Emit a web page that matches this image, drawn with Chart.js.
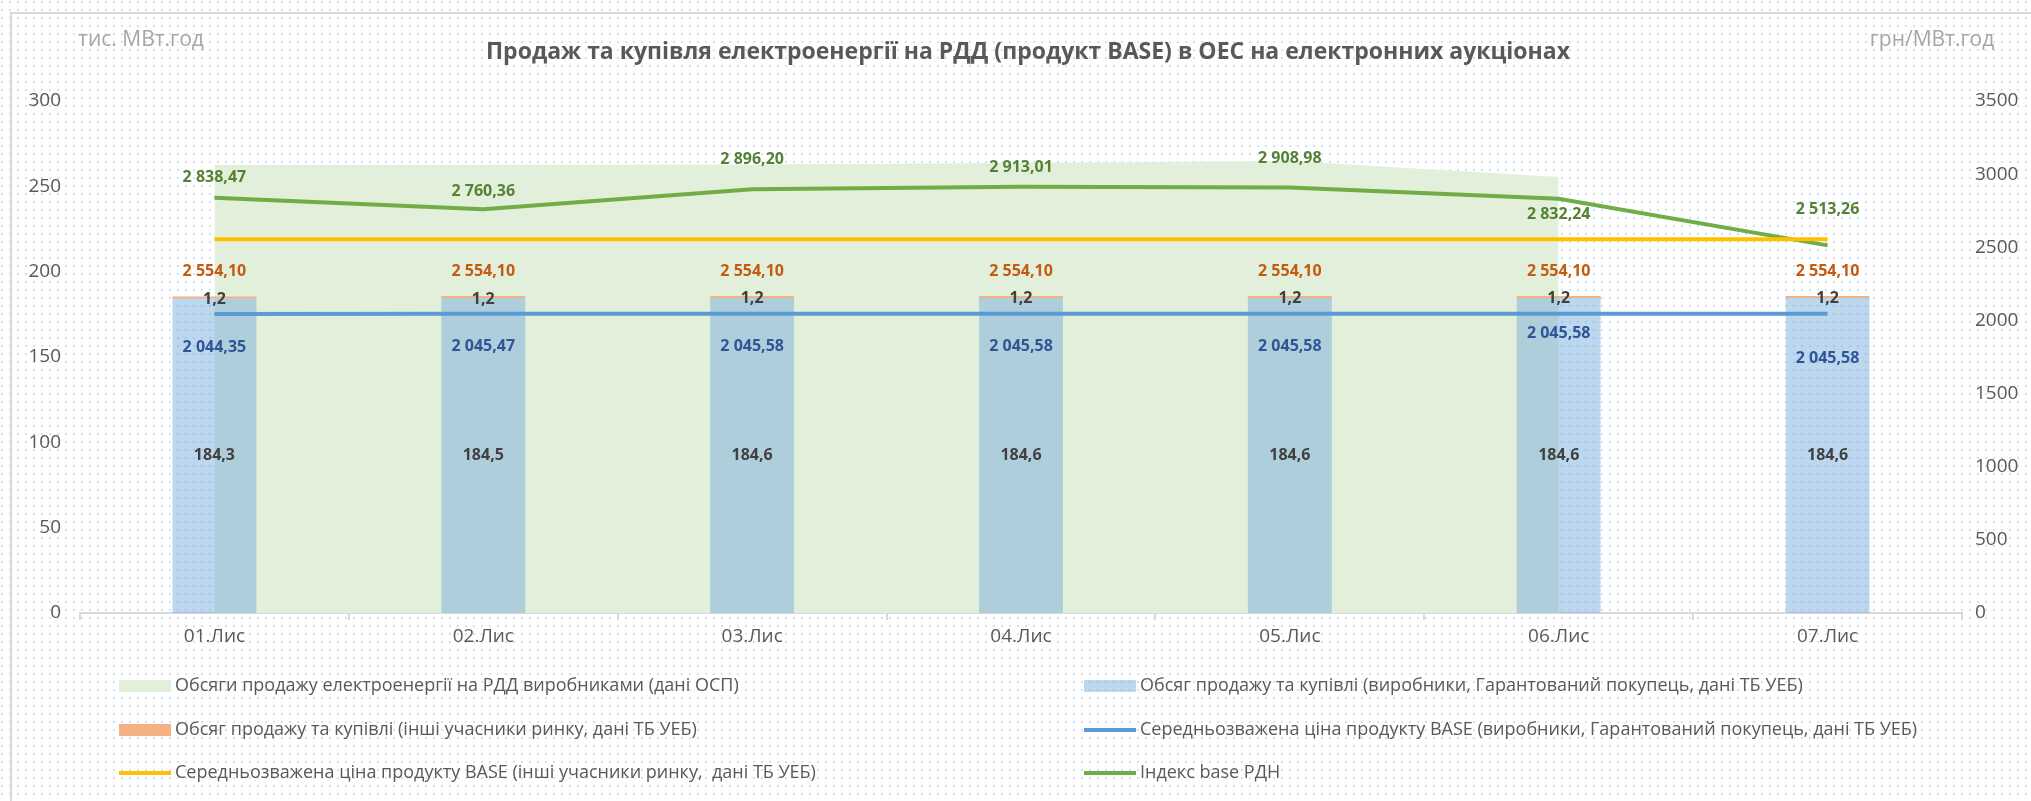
<!DOCTYPE html>
<html lang="uk">
<head>
<meta charset="utf-8">
<title>Продаж та купівля електроенергії на РДД</title>
<script src="https://cdn.jsdelivr.net/npm/chart.js@4.4.1/dist/chart.umd.min.js"></script>
<style>
  html, body { margin: 0; padding: 0; width: 2031px; height: 801px; overflow: hidden; }
  body {
    background-color: #fff;
    background-image: radial-gradient(circle at 2px 2px, #d3e2f2 1px, transparent 1.6px);
    background-size: 8px 8px;
  }
  #frame {
    position: absolute; left: 10px; top: 12px; width: 2100px; height: 900px;
    border: 2px solid #d9d9d9; box-sizing: border-box;
  }
  #grafico { position: absolute; left: 0; top: 0; }
</style>
</head>
<body>
<div id="frame"></div>
<canvas id="grafico" width="2031" height="801"></canvas>
<script>
// Дані графіка
const categories = ['01.Лис', '02.Лис', '03.Лис', '04.Лис', '05.Лис', '06.Лис', '07.Лис'];
// тис. МВт.год (ліва вісь)
const volumeOsp = [262.5, 262.6, 262.8, 263.6, 264.8, 255.4, null];
const volumeProducers = [184.3, 184.5, 184.6, 184.6, 184.6, 184.6, 184.6];
const volumeOthers = [1.2, 1.2, 1.2, 1.2, 1.2, 1.2, 1.2];
// грн/МВт.год (права вісь)
const priceProducers = [2044.35, 2045.47, 2045.58, 2045.58, 2045.58, 2045.58, 2045.58];
const priceOthers = [2554.10, 2554.10, 2554.10, 2554.10, 2554.10, 2554.10, 2554.10];
const indexBase = [2838.47, 2760.36, 2896.20, 2913.01, 2908.98, 2832.24, 2513.26];
// межі осей
const leftAxis = { min: 0, max: 300, step: 50 };
const rightAxis = { min: 0, max: 3500, step: 500 };

// зсув підписів відносно точки (px)
const greenLabelDy = [-20, -18, -30, -19, -29, 16, -36];
const blueLabelDy = [33, 33, 33, 33, 33, 20, 45];
const yellowLabelDy = [32, 32, 32, 32, 32, 32, 32];

const FONT = '"Open Sans", "DejaVu Sans", sans-serif';
const GREY = '#595959';

function fmt(v, d) {
  const parts = v.toFixed(d).split('.');
  parts[0] = parts[0].replace(/\B(?=(\d{3})+(?!\d))/g, ' ');
  return parts.join(',');
}

// підписи значень
const valueLabels = {
  id: 'valueLabels',
  afterDatasetsDraw(chart) {
    const ctx = chart.ctx;
    ctx.save();
    ctx.font = 'bold 16px ' + FONT;
    ctx.textAlign = 'center';
    ctx.textBaseline = 'middle';
    chart.data.datasets.forEach((ds, i) => {
      const lbl = ds.valueLabel;
      if (!lbl) return;
      const meta = chart.getDatasetMeta(i);
      meta.data.forEach((el, j) => {
        const v = ds.data[j];
        if (v == null) return;
        let y;
        if (lbl.where === 'middle') y = (el.y + el.base) / 2;
        else y = el.y + (lbl.dy ? lbl.dy[j] : 0);
        ctx.fillStyle = lbl.color;
        ctx.fillText(fmt(v, lbl.digits), el.x, y);
      });
    });
    ctx.restore();
  }
};

// заголовок, одиниці та легенда
const decor = {
  id: 'decor',
  afterDraw(chart) {
    const ctx = chart.ctx;
    ctx.save();
    ctx.textBaseline = 'middle';

    ctx.fillStyle = GREY;
    ctx.font = 'bold 23px ' + FONT;
    ctx.textAlign = 'center';
    ctx.fillText('Продаж та купівля електроенергії на РДД (продукт BASE) в ОЕС на електронних аукціонах', 1028, 52);

    ctx.fillStyle = '#a6a6a6';
    ctx.font = '21px ' + FONT;
    ctx.textAlign = 'left';
    ctx.fillText('тис. МВт.год', 78, 40);
    ctx.textAlign = 'center';
    ctx.fillText('грн/МВт.год', 1932, 40);

    // легенда у два стовпці
    const order = [0, 1, 2, 3, 4, 5];
    const cols = [119, 1084];
    const rows = [686, 730, 773];
    ctx.font = '18px ' + FONT;
    ctx.textAlign = 'left';
    order.forEach((di, k) => {
      const ds = chart.data.datasets[di];
      const x = cols[k % 2];
      const y = rows[Math.floor(k / 2)];
      if (ds.type === 'line' && !ds.fill) {
        ctx.strokeStyle = ds.borderColor;
        ctx.lineWidth = 4;
        ctx.beginPath();
        ctx.moveTo(x, y);
        ctx.lineTo(x + 52, y);
        ctx.stroke();
      } else {
        ctx.fillStyle = ds.backgroundColor;
        ctx.fillRect(x, y - 6, 52, 12);
      }
      ctx.fillStyle = GREY;
      ctx.fillText(ds.label, x + 56, y);
    });
    ctx.restore();
  }
};

const ctx = document.getElementById('grafico').getContext('2d');

new Chart(ctx, {
  type: 'bar',
  data: {
    labels: categories,
    datasets: [
      {
        type: 'line',
        label: 'Обсяги продажу електроенергії на РДД виробниками (дані ОСП)',
        data: volumeOsp,
        yAxisID: 'y',
        stack: 'osp',
        fill: 'origin',
        backgroundColor: '#e2efda',
        borderColor: 'rgba(0,0,0,0)',
        borderWidth: 0,
        pointRadius: 0,
        tension: 0,
        order: 3
      },
      {
        type: 'bar',
        label: 'Обсяг продажу та купівлі (виробники, Гарантований покупець, дані ТБ УЕБ)',
        data: volumeProducers,
        yAxisID: 'y',
        stack: 'tb',
        backgroundColor: 'rgba(108,166,217,0.45)',
        barPercentage: 0.312,
        categoryPercentage: 1,
        order: 2,
        valueLabel: { where: 'middle', color: '#404040', digits: 1 }
      },
      {
        type: 'bar',
        label: 'Обсяг продажу та купівлі (інші учасники ринку, дані ТБ УЕБ)',
        data: volumeOthers,
        yAxisID: 'y',
        stack: 'tb',
        backgroundColor: '#f4b183',
        barPercentage: 0.312,
        categoryPercentage: 1,
        order: 2,
        valueLabel: { where: 'top', dy: [3, 3, 3, 3, 3, 3, 3], color: '#404040', digits: 1 }
      },
      {
        type: 'line',
        label: 'Середньозважена ціна продукту BASE (виробники, Гарантований покупець, дані ТБ УЕБ)',
        data: priceProducers,
        yAxisID: 'y1',
        borderColor: '#5b9bd5',
        borderWidth: 4,
        pointRadius: 0,
        fill: false,
        order: 1,
        valueLabel: { where: 'top', dy: blueLabelDy, color: '#2f5597', digits: 2 }
      },
      {
        type: 'line',
        label: 'Середньозважена ціна продукту BASE (інші учасники ринку,  дані ТБ УЕБ)',
        data: priceOthers,
        yAxisID: 'y1',
        borderColor: '#ffc000',
        borderWidth: 4,
        pointRadius: 0,
        fill: false,
        order: 1,
        valueLabel: { where: 'top', dy: yellowLabelDy, color: '#c55a11', digits: 2 }
      },
      {
        type: 'line',
        label: 'Індекс base РДН',
        data: indexBase,
        yAxisID: 'y1',
        borderColor: '#70ad47',
        borderWidth: 4,
        pointRadius: 0,
        fill: false,
        order: 1,
        valueLabel: { where: 'top', dy: greenLabelDy, color: '#548235', digits: 2 }
      }
    ]
  },
  options: {
    responsive: false,
    animation: false,
    layout: { padding: { top: 101, bottom: 148, left: 0, right: 0 } },
    plugins: {
      legend: { display: false },
      title: { display: false },
      tooltip: { enabled: false }
    },
    scales: {
      x: {
        stacked: true,
        grid: { display: true, drawOnChartArea: false, drawTicks: true, tickLength: 7, color: '#d9d9d9', lineWidth: 2 },
        border: { display: true, color: '#d9d9d9', width: 2 },
        ticks: { color: GREY, font: { family: FONT, size: 19 }, padding: 5, maxRotation: 0 },
        afterFit(scale) { scale.height = 40; }
      },
      y: {
        position: 'left',
        stacked: true,
        min: leftAxis.min,
        max: leftAxis.max,
        grid: { display: false, drawTicks: false },
        border: { display: false },
        ticks: { stepSize: leftAxis.step, color: GREY, font: { family: FONT, size: 19 }, padding: 19 },
        afterFit(scale) { scale.width = 80; }
      },
      y1: {
        position: 'right',
        min: rightAxis.min,
        max: rightAxis.max,
        grid: { display: false, drawTicks: false },
        border: { display: false },
        ticks: {
          stepSize: rightAxis.step, color: GREY, font: { family: FONT, size: 19 }, padding: 13,
          callback: (v) => String(v)
        },
        afterFit(scale) { scale.width = 69; }
      }
    }
  },
  plugins: [valueLabels, decor]
});
</script>
</body>
</html>
